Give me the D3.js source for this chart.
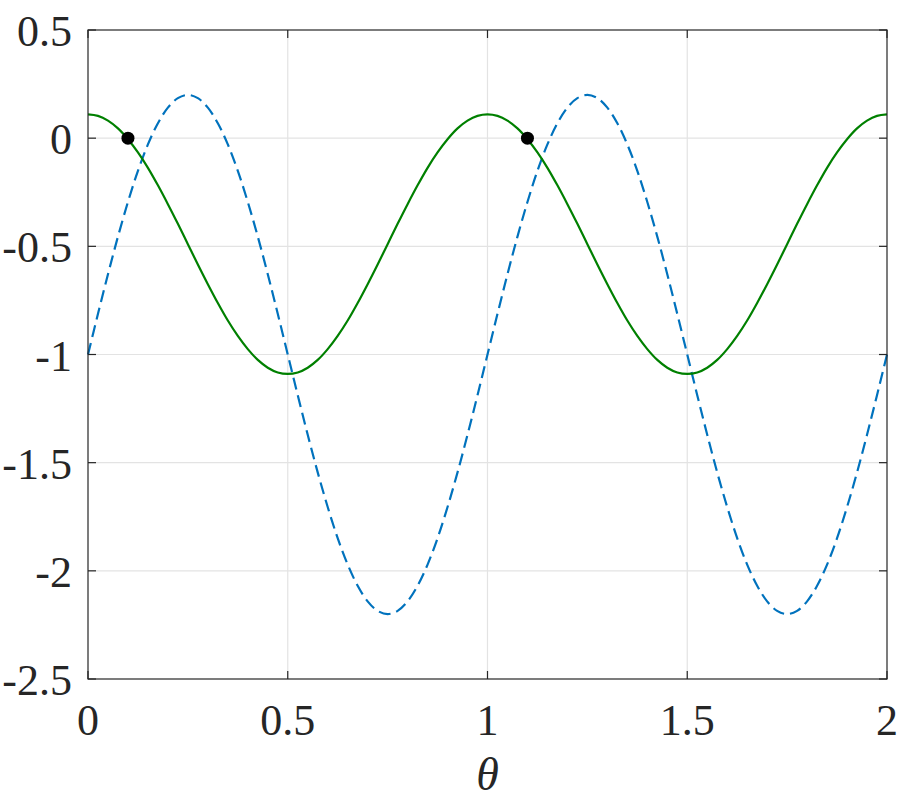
<!DOCTYPE html>
<html>
<head>
<meta charset="utf-8">
<script src="https://cdn.jsdelivr.net/npm/d3@7"></script>
<style>
  body { margin: 0; background: #fff; }
  svg { display: block; }
</style>
</head>
<body>
<div id="chart"></div>
<script>
// == Data ====================================================================

// theta samples, step 0.025 from 0 to 2
const theta = d3.range(81).map(i => i * 0.025)

// solid green curve
const greenValues = [
  0.110, 0.103, 0.081, 0.045, -0.005, -0.066, -0.137, -0.218, -0.305, -0.396,
  -0.490, -0.584, -0.675, -0.762, -0.843, -0.914, -0.975, -1.025, -1.061, -1.083,
  -1.090, -1.083, -1.061, -1.025, -0.975, -0.914, -0.843, -0.762, -0.675, -0.584,
  -0.490, -0.396, -0.305, -0.218, -0.137, -0.066, -0.005, 0.045, 0.081, 0.103,
  0.110, 0.103, 0.081, 0.045, -0.005, -0.066, -0.137, -0.218, -0.305, -0.396,
  -0.490, -0.584, -0.675, -0.762, -0.843, -0.914, -0.975, -1.025, -1.061, -1.083,
  -1.090, -1.083, -1.061, -1.025, -0.975, -0.914, -0.843, -0.762, -0.675, -0.584,
  -0.490, -0.396, -0.305, -0.218, -0.137, -0.066, -0.005, 0.045, 0.081, 0.103,
  0.110
]

// dashed blue curve
const blueValues = [
  -1.000, -0.812, -0.629, -0.455, -0.295, -0.151, -0.029, 0.069, 0.141, 0.185,
  0.200, 0.185, 0.141, 0.069, -0.029, -0.151, -0.295, -0.455, -0.629, -0.812,
  -1.000, -1.188, -1.371, -1.545, -1.705, -1.849, -1.971, -2.069, -2.141, -2.185,
  -2.200, -2.185, -2.141, -2.069, -1.971, -1.849, -1.705, -1.545, -1.371, -1.188,
  -1.000, -0.812, -0.629, -0.455, -0.295, -0.151, -0.029, 0.069, 0.141, 0.185,
  0.200, 0.185, 0.141, 0.069, -0.029, -0.151, -0.295, -0.455, -0.629, -0.812,
  -1.000, -1.188, -1.371, -1.545, -1.705, -1.849, -1.971, -2.069, -2.141, -2.185,
  -2.200, -2.185, -2.141, -2.069, -1.971, -1.849, -1.705, -1.545, -1.371, -1.188,
  -1.000
]

// black markers
const markerX = [0.1, 1.1]
const markerY = [0, 0]

const xTicks = [0, 0.5, 1, 1.5, 2]
const xTickLabels = ['0', '0.5', '1', '1.5', '2']
const yTicks = [0.5, 0, -0.5, -1, -1.5, -2, -2.5]
const yTickLabels = ['0.5', '0', '-0.5', '-1', '-1.5', '-2', '-2.5']

// == Layout ==================================================================

const width = 900
const height = 803
const plotLeft = 88, plotRight = 887, plotTop = 30, plotBottom = 679
const tickLen = 8
const axisColor = '#262626'
const serif = '"Liberation Serif", "Times New Roman", Times, serif'

const svg = d3.select('#chart').append('svg')
  .attr('width', width)
  .attr('height', height)

const x = d3.scaleLinear().domain([0, 2]).range([plotLeft, plotRight])
const y = d3.scaleLinear().domain([-2.5, 0.5]).range([plotBottom, plotTop])

// grid
svg.append('g')
  .selectAll('line')
  .data(xTicks.slice(1, -1))
  .join('line')
  .attr('x1', d => x(d)).attr('x2', d => x(d))
  .attr('y1', plotTop).attr('y2', plotBottom)
  .attr('stroke', '#e3e3e3').attr('stroke-width', 1.2)

svg.append('g')
  .selectAll('line')
  .data(yTicks.slice(1, -1))
  .join('line')
  .attr('y1', d => y(d)).attr('y2', d => y(d))
  .attr('x1', plotLeft).attr('x2', plotRight)
  .attr('stroke', '#e3e3e3').attr('stroke-width', 1.2)

// curves
const line = (vals) => d3.line()
  .x((d, i) => x(theta[i]))
  .y(d => y(d))
  .curve(d3.curveCatmullRom.alpha(0.5))(vals)

svg.append('path')
  .attr('d', line(blueValues))
  .attr('fill', 'none')
  .attr('stroke', '#0072BD')
  .attr('stroke-width', 2.2)
  .attr('stroke-dasharray', '12,6')

svg.append('path')
  .attr('d', line(greenValues))
  .attr('fill', 'none')
  .attr('stroke', '#008000')
  .attr('stroke-width', 2.2)

svg.append('g')
  .selectAll('circle')
  .data(markerX)
  .join('circle')
  .attr('cx', d => x(d))
  .attr('cy', (d, i) => y(markerY[i]))
  .attr('r', 6.5)
  .attr('fill', '#000')

// box
svg.append('rect')
  .attr('x', plotLeft).attr('y', plotTop)
  .attr('width', plotRight - plotLeft).attr('height', plotBottom - plotTop)
  .attr('fill', 'none')
  .attr('stroke', axisColor)
  .attr('stroke-width', 1.2)

// inward ticks on all four sides
const ticks = svg.append('g').attr('stroke', axisColor).attr('stroke-width', 1.2)
xTicks.forEach(t => {
  ticks.append('line').attr('x1', x(t)).attr('x2', x(t)).attr('y1', plotBottom).attr('y2', plotBottom - tickLen)
  ticks.append('line').attr('x1', x(t)).attr('x2', x(t)).attr('y1', plotTop).attr('y2', plotTop + tickLen)
})
yTicks.forEach(t => {
  ticks.append('line').attr('y1', y(t)).attr('y2', y(t)).attr('x1', plotLeft).attr('x2', plotLeft + tickLen)
  ticks.append('line').attr('y1', y(t)).attr('y2', y(t)).attr('x1', plotRight).attr('x2', plotRight - tickLen)
})

// tick labels
svg.append('g')
  .selectAll('text')
  .data(xTicks)
  .join('text')
  .style('font-family', serif)
  .style('font-size', '44px')
  .attr('fill', axisColor)
  .attr('x', d => x(d))
  .attr('y', plotBottom + 56)
  .attr('text-anchor', 'middle')
  .text((d, i) => xTickLabels[i])

svg.append('g')
  .selectAll('text')
  .data(yTicks)
  .join('text')
  .style('font-family', serif)
  .style('font-size', '44px')
  .attr('fill', axisColor)
  .attr('x', plotLeft - 16)
  .attr('y', d => y(d) + 16)
  .attr('text-anchor', 'end')
  .text((d, i) => yTickLabels[i])

// axis label
svg.append('text')
  .style('font-family', serif)
  .style('font-size', '46px')
  .style('font-style', 'italic')
  .attr('fill', axisColor)
  .attr('x', (plotLeft + plotRight) / 2)
  .attr('y', 790)
  .attr('text-anchor', 'middle')
  .text('θ')
</script>
</body>
</html>
